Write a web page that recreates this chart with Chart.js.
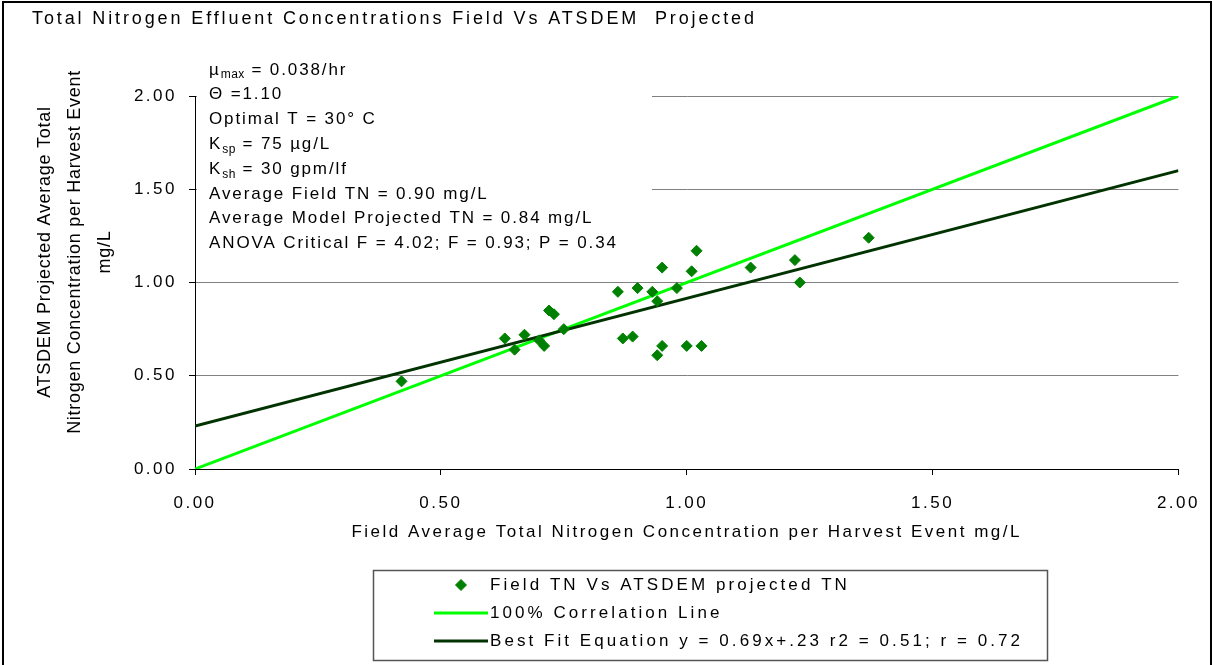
<!DOCTYPE html>
<html>
<head>
<meta charset="utf-8">
<title>Total Nitrogen Effluent Concentrations</title>
<script src="https://cdn.jsdelivr.net/npm/chart.js@4.4.0/dist/chart.umd.min.js"></script>
<style>
  html, body { margin: 0; padding: 0; background: #fff; }
  #wrap { width: 1213px; height: 665px; }
</style>
</head>
<body>
<div id="wrap"><canvas id="tnChart" width="1213" height="665"></canvas></div>
<script>
// field measured vs ATSDEM projected total nitrogen, mg/L (one pair per harvest event)
const fieldTN = [0.42, 0.63, 0.65, 0.67, 0.70, 0.71, 0.72, 0.73, 0.75, 0.86, 0.90, 0.93, 0.95, 0.94,
                 0.98, 1.01, 1.02, 0.87, 0.89, 0.95, 0.94, 1.00, 1.03, 1.13, 1.22, 1.23, 1.37];
const modelTN = [0.47, 0.70, 0.64, 0.72, 0.69, 0.66, 0.85, 0.83, 0.75, 0.95, 0.97, 0.95, 1.08, 0.90,
                 0.97, 1.06, 1.17, 0.70, 0.71, 0.66, 0.61, 0.66, 0.66, 1.08, 1.12, 1.00, 1.24];

// 100% correlation line and best fit line end points
const corrX = [0, 2];
const corrY = [0, 2];
const fitX = [0, 2];
const fitY = [0.23, 1.60];

const tickValues = [0, 0.5, 1, 1.5, 2];

const seriesNames = [
  'Field TN Vs ATSDEM projected TN',
  '100% Correlation Line',
  'Best Fit Equation y = 0.69x+.23 r2 = 0.51; r = 0.72'
];
const chartTitle = 'Total Nitrogen Effluent Concentrations Field Vs ATSDEM  Projected';
const xTitle = 'Field Average Total Nitrogen Concentration per Harvest Event mg/L';
const yTitle = ['ATSDEM Projected Average Total', 'Nitrogen Concentration per Harvest Event', 'mg/L'];

// text box lines, parts starting with "_" are subscripts
const notes = [
  ['\u00b5', '_max', ' = 0.038/hr'],
  ['\u0398 =1.10'],
  ['Optimal T = 30\u00b0 C'],
  ['K', '_sp', ' = 75 \u00b5g/L'],
  ['K', '_sh', ' = 30 gpm/lf'],
  ['Average Field TN = 0.90 mg/L'],
  ['Average Model Projected TN = 0.84 mg/L'],
  ['ANOVA Critical F = 4.02; F = 0.93; P = 0.34']
];

const FAMILY = '"Liberation Sans", Arial, Helvetica, sans-serif';
const AXIS_SPACING = 2.5;

function fitSpacing(ctx, text, font, width) {
  ctx.save();
  ctx.font = font;
  ctx.letterSpacing = '0px';
  const w = ctx.measureText(text).width;
  ctx.restore();
  return Math.max(0, (width - w) / (text.length - 1));
}

function drawRich(ctx, parts, x, y, size, spacing) {
  let cx = x;
  parts.forEach(p => {
    const sub = p.startsWith('_');
    const t = sub ? p.slice(1) : p;
    ctx.font = (sub ? Math.round(size * 0.68) : size) + 'px ' + FAMILY;
    ctx.letterSpacing = (sub ? 0.5 : spacing) + 'px';
    ctx.fillText(t, cx, sub ? y + 5 : y);
    cx += ctx.measureText(t).width;
  });
}

const decorPlugin = {
  id: 'decor',
  beforeDraw(chart) {
    chart.ctx.letterSpacing = AXIS_SPACING + 'px';
  },
  beforeDatasetsDraw(chart) {
    // text box with white fill sits over the gridlines
    const ctx = chart.ctx;
    ctx.save();
    ctx.fillStyle = '#fff';
    ctx.fillRect(197, 56, 455, 210);
    ctx.fillStyle = '#000';
    ctx.textBaseline = 'middle';
    ctx.textAlign = 'left';
    const sp = fitSpacing(ctx, notes[7].join(''), '17px ' + FAMILY, 407);
    notes.forEach((parts, i) => drawRich(ctx, parts, 209, 70 + i * 24.8, 17, sp));
    ctx.restore();
  },
  afterDraw(chart) {
    const ctx = chart.ctx;
    ctx.save();
    ctx.fillStyle = '#000';
    ctx.textBaseline = 'middle';

    // title
    let font = '18px ' + FAMILY;
    ctx.font = font;
    ctx.textAlign = 'left';
    ctx.letterSpacing = fitSpacing(ctx, chartTitle, font, 722) + 'px';
    ctx.fillText(chartTitle, 32, 19);

    // y axis title, three rotated lines
    font = '18px ' + FAMILY;
    const ySp = fitSpacing(ctx, yTitle[1], font, 363);
    ctx.font = font;
    ctx.letterSpacing = ySp + 'px';
    ctx.textAlign = 'center';
    yTitle.forEach((line, i) => {
      ctx.save();
      ctx.translate(45 + i * 30, 252);
      ctx.rotate(-Math.PI / 2);
      ctx.fillText(line, 0, 0);
      ctx.restore();
    });

    // legend box
    ctx.strokeStyle = '#555';
    ctx.lineWidth = 1.5;
    ctx.strokeRect(373.5, 570.5, 674, 90);
    font = '17px ' + FAMILY;
    const lSp = fitSpacing(ctx, seriesNames[2], font, 530);
    const rows = [585, 613, 641];
    const ds = chart.data.datasets;
    ds.forEach((d, i) => {
      const y = rows[i];
      if (d.showLine) {
        ctx.strokeStyle = d.borderColor;
        ctx.lineWidth = d.borderWidth;
        ctx.beginPath();
        ctx.moveTo(434, y);
        ctx.lineTo(488, y);
        ctx.stroke();
      } else {
        ctx.fillStyle = d.backgroundColor;
        ctx.strokeStyle = d.borderColor;
        ctx.lineWidth = d.borderWidth;
        Chart.helpers.drawPoint(ctx, {pointStyle: d.pointStyle, radius: d.pointRadius, borderWidth: d.borderWidth}, 461, y);
      }
      ctx.fillStyle = '#000';
      ctx.font = font;
      ctx.letterSpacing = lSp + 'px';
      ctx.textAlign = 'left';
      ctx.fillText(d.label, 490, y);
    });

    // outer frame
    ctx.strokeStyle = '#000';
    ctx.lineWidth = 2;
    ctx.strokeRect(3, 2, 1208, 700);
    ctx.restore();
  }
};

const points = fieldTN.map((x, i) => ({x: x, y: modelTN[i]}));
const corrLine = corrX.map((x, i) => ({x: x, y: corrY[i]}));
const fitLine = fitX.map((x, i) => ({x: x, y: fitY[i]}));

const tickFont = {family: FAMILY, size: 17};

new Chart(document.getElementById('tnChart'), {
  type: 'scatter',
  data: {
    datasets: [{
      label: seriesNames[0],
      data: points,
      backgroundColor: '#008000',
      borderColor: '#008000',
      borderWidth: 1,
      pointStyle: 'rectRot',
      pointRadius: 5.5,
      order: 0
    }, {
      label: seriesNames[1],
      data: corrLine,
      showLine: true,
      borderColor: '#00ff00',
      borderWidth: 3,
      pointRadius: 0,
      order: 2
    }, {
      label: seriesNames[2],
      data: fitLine,
      showLine: true,
      borderColor: '#003300',
      borderWidth: 3,
      pointRadius: 0,
      order: 1
    }]
  },
  options: {
    responsive: false,
    animation: false,
    devicePixelRatio: 1,
    layout: {padding: {left: 0, top: 96, right: 32, bottom: 110}},
    plugins: {
      legend: {display: false},
      tooltip: {enabled: false},
      title: {display: false}
    },
    scales: {
      x: {
        type: 'linear',
        min: 0,
        max: 2,
        afterBuildTicks: s => { s.ticks = tickValues.map(v => ({value: v})); },
        afterFit: s => { s.height = 86; },
        grid: {drawOnChartArea: false, tickLength: 6, color: '#000'},
        border: {color: '#000', width: 1},
        ticks: {font: tickFont, color: '#000', padding: 18, maxRotation: 0,
                callback: v => v.toFixed(2)},
        title: {display: true, text: xTitle, color: '#000', font: tickFont,
                padding: {top: 0, bottom: 12}}
      },
      y: {
        type: 'linear',
        min: 0,
        max: 2,
        afterBuildTicks: s => { s.ticks = tickValues.map(v => ({value: v})); },
        afterFit: s => { s.width = 195; },
        grid: {color: '#808080', tickColor: '#000', tickLength: 6},
        border: {color: '#000', width: 1},
        ticks: {font: tickFont, color: '#000', padding: 12,
                callback: v => v.toFixed(2)}
      }
    }
  },
  plugins: [decorPlugin]
});
</script>
</body>
</html>
